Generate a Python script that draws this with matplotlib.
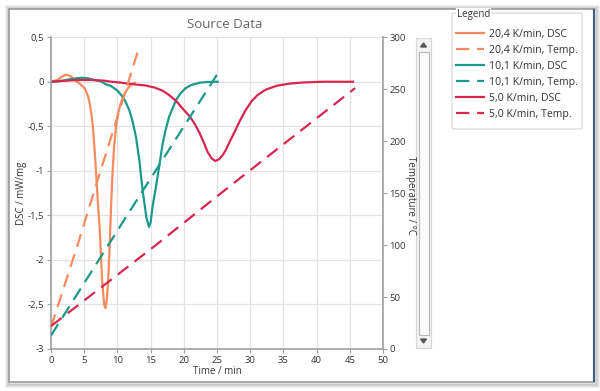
import matplotlib
matplotlib.use("Agg")
import matplotlib.pyplot as plt
from matplotlib.patches import Rectangle, FancyBboxPatch, Polygon
from matplotlib.lines import Line2D

plt.rcParams['font.family'] = ['Open Sans', 'DejaVu Sans']

# ---------------- data ----------------
t_dsc_20 = [0, 1, 1.7, 2.3, 3.0, 3.6, 4.3, 5.1, 5.6, 5.9, 6.15, 6.35, 6.6, 6.85, 7.1, 7.35,
            7.7, 8.0, 8.2, 8.4, 8.6, 8.83, 9.1, 9.3, 9.5, 9.8, 10.1, 10.6, 11.1, 11.7, 12.3,
            12.6]
v_dsc_20 = [0, 0.02, 0.06, 0.08, 0.06, 0.02, -0.02, -0.075, -0.17, -0.27, -0.4, -0.54,
            -0.8, -1.1, -1.4, -1.67, -2.23, -2.5, -2.54, -2.45, -2.25, -1.85, -1.29, -0.98,
            -0.73, -0.5, -0.35, -0.22, -0.13, -0.06, -0.02, -0.01]

t_dsc_10 = [0, 1, 2, 3, 4.5, 5.5, 6.5, 7.5, 8.3, 9.1, 10.0, 10.6, 11.2, 11.8, 12.3, 12.8,
            13.3, 13.8, 14.36, 14.75, 15.0, 15.3, 15.8, 16.3, 16.8, 17.2, 17.8, 18.8, 19.5,
            20.3, 21.2, 22.3, 23.5, 25.1]
v_dsc_10 = [0, 0.005, 0.015, 0.03, 0.045, 0.04, 0.02, 0.005, -0.03, -0.05, -0.1, -0.15,
            -0.22, -0.32, -0.45, -0.62, -0.88, -1.22, -1.52, -1.63, -1.58, -1.4, -1.18,
            -0.95, -0.7, -0.56, -0.39, -0.21, -0.13, -0.07, -0.035, -0.012, -0.003, 0]

t_dsc_5 = [0, 2, 4, 6, 8, 9.1, 10.5, 12.6, 14.1, 15.6, 16.8, 17.8, 18.9, 19.8, 20.9, 21.7,
           22.4, 23.0, 23.6, 24.2, 24.75, 25.3, 25.8, 26.3, 27.0, 27.8, 28.5, 29.3, 30.2,
           31.1, 32.3, 34, 36, 38, 41, 45.5]
v_dsc_5 = [0, 0.01, 0.02, 0.02, 0.012, 0, -0.01, -0.03, -0.04, -0.065, -0.1, -0.15, -0.22,
           -0.3, -0.39, -0.48, -0.58, -0.68, -0.79, -0.86, -0.89, -0.87, -0.83, -0.77,
           -0.66, -0.54, -0.43, -0.32, -0.22, -0.15, -0.09, -0.045, -0.02, -0.008, 0, 0]

t_temp_20 = [0, 4, 7, 10, 13.3]
T_temp_20 = [21, 100, 162, 223, 291]

t_temp_10 = [0, 12, 25.3]
T_temp_10 = [13, 134, 267]

t_temp_5 = [0, 15.6, 26.8, 45.8]
T_temp_5 = [22, 99, 156, 251]

labels = ["20,4 K/min, DSC", "20,4 K/min, Temp.", "10,1 K/min, DSC",
          "10,1 K/min, Temp.", "5,0 K/min, DSC", "5,0 K/min, Temp."]
x_ticks = [0, 5, 10, 15, 20, 25, 30, 35, 40, 45, 50]
y_ticks = [-3, -2.5, -2, -1.5, -1, -0.5, 0, 0.5]
y_ticklabels = ["-3", "-2,5", "-2", "-1,5", "-1", "-0,5", "0", "0,5"]
t2_ticks = [0, 50, 100, 150, 200, 250, 300]

c_or = "#F58B5E"
c_te = "#1B998B"
c_cr = "#D7264F"

W, H = 600, 391
fig = plt.figure(figsize=(6, 3.91), dpi=100)
fig.patch.set_facecolor("white")


def fx(x):
    return x / W


def fy(y):
    return 1 - y / H


# window shadow + frame (drawn beneath the axes)
for i, a in enumerate([0.05, 0.07, 0.09, 0.12]):
    d = 4 - i
    fig.patches.append(Rectangle((fx(9 - d + 1), fy(382 + d + 1)), fx(585 + 2 * d), (373 + 2 * d) / H,
                                 transform=fig.transFigure, facecolor="none",
                                 edgecolor=(0, 0, 0, a), lw=1.5, zorder=-5))
fig.patches.append(Rectangle((fx(9), fy(382)), fx(585), 373 / H, transform=fig.transFigure,
                             facecolor="white", edgecolor="#9a9a9a", lw=1.2, zorder=-4))
fig.lines.append(Line2D([fx(594), fx(594)], [fy(10), fy(381)], transform=fig.transFigure,
                        color="#3b5f86", lw=1.5, zorder=-3))

ax = fig.add_axes([fx(51), fy(349), (383 - 51) / W, (349 - 37.2) / H])
ax.set_facecolor("none")
ax2 = ax.twinx()

lw = 1.6
dash = (6, 3.5)
l1, = ax.plot(t_dsc_20, v_dsc_20, color=c_or, lw=lw)
l3, = ax.plot(t_dsc_10, v_dsc_10, color=c_te, lw=lw)
l5, = ax.plot(t_dsc_5, v_dsc_5, color=c_cr, lw=lw)
l2, = ax2.plot(t_temp_20, T_temp_20, color=c_or, lw=lw, dashes=dash)
l4, = ax2.plot(t_temp_10, T_temp_10, color=c_te, lw=lw, dashes=dash)
l6, = ax2.plot(t_temp_5, T_temp_5, color=c_cr, lw=lw, dashes=dash)

ax.set_xlim(0, 50)
ax.set_ylim(-3, 0.5)
ax2.set_ylim(0, 300)
ax.set_xticks(x_ticks)
ax.set_yticks(y_ticks)
ax.set_yticklabels(y_ticklabels)
ax2.set_yticks(t2_ticks)
ax.grid(True, color="#e3e3e3", lw=0.9)
ax.set_axisbelow(True)

for s in ["top", "right"]:
    ax.spines[s].set_visible(False)
for s in ["top", "left", "bottom"]:
    ax2.spines[s].set_visible(False)
for s in [ax.spines["left"], ax.spines["bottom"], ax2.spines["right"]]:
    s.set_color("#a0a0a0")
    s.set_linewidth(1.2)

fs = 7
ax.tick_params(axis="both", direction="out", length=3, width=0.8, color="#a0a0a0",
               labelsize=6.8, labelcolor="#333333", pad=1.8)
ax2.tick_params(axis="y", direction="out", length=3, width=0.8, color="#a0a0a0",
                labelsize=6.8, labelcolor="#333333", pad=1.5)

fig.text(fx(225), fy(24), "Source Data", ha="center", va="center", fontsize=9.5, color="#666666")
fig.text(fx(21.5), fy(193), "DSC / mW/mg", ha="center", va="center", rotation=90,
         fontsize=fs, color="#333333")
fig.text(fx(410.5), fy(195), "Temperature / °C", ha="center", va="center", rotation=-90,
         fontsize=fs, color="#333333")
fig.text(fx(217), fy(372), "Time / min", ha="center", va="center", fontsize=fs, color="#333333")

# scrollbar
fig.patches.append(Rectangle((fx(416), fy(348)), fx(15), 310 / H, transform=fig.transFigure,
                             facecolor="#f3f3f3", edgecolor="#d6d6d6", lw=0.8, zorder=2))
fig.patches.append(Rectangle((fx(419), fy(335)), fx(9.5), 283 / H, transform=fig.transFigure,
                             facecolor="#fafafa", edgecolor="#b9b9b9", lw=0.8, zorder=3))
fig.patches.append(Polygon([(fx(420.5), fy(47)), (fx(426.5), fy(47)), (fx(423.5), fy(43))],
                           closed=True, transform=fig.transFigure, color="#5a5a5a", zorder=4))
fig.patches.append(Polygon([(fx(420.5), fy(339)), (fx(426.5), fy(339)), (fx(423.5), fy(343))],
                           closed=True, transform=fig.transFigure, color="#5a5a5a", zorder=4))

# legend group box
fig.patches.append(FancyBboxPatch((fx(452), fy(129)), fx(130), 116 / H,
                                  boxstyle="round,pad=0,rounding_size=0.004",
                                  transform=fig.transFigure, facecolor="white",
                                  edgecolor="#d9d9d9", lw=0.9, zorder=2))
fig.text(fx(457), fy(14), "Legend", ha="left", va="center", fontsize=7, color="#333333",
         zorder=5, bbox=dict(facecolor="white", edgecolor="none", pad=0.6))
leg = fig.legend([l1, l2, l3, l4, l5, l6], labels, loc="upper left",
                 bbox_to_anchor=(fx(453), fy(26)), frameon=False, fontsize=7.6,
                 handlelength=2.6, handletextpad=0.55, labelspacing=0.47,
                 borderaxespad=0, borderpad=0.3)
for txt in leg.get_texts():
    txt.set_color("#333333")
leg.set_zorder(6)

fig.savefig("out.png", dpi=100)
